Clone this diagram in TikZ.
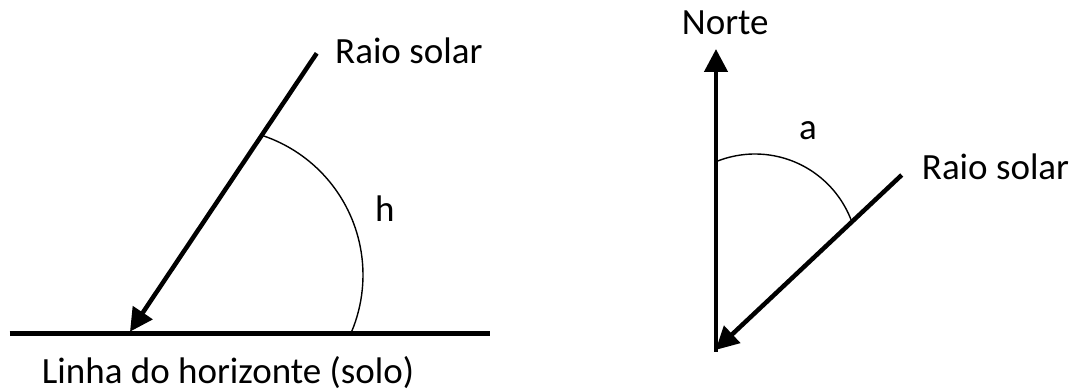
\documentclass[tikz,border=0pt]{standalone}
\usepackage{fontspec}
\setmainfont{Carlito}
\usetikzlibrary{arrows.meta}
\begin{document}
\begin{tikzpicture}[x=1pt,y=1pt,
  thickline/.style={line width=4.5pt},
  arrowline/.style={line width=4.5pt,-{Triangle[length=23pt,width=23pt]}},
  arcline/.style={line width=1.4pt},
  lbl/.style={inner sep=0pt,anchor=base west,font=\fontsize{37}{44}\selectfont}]
\useasboundingbox (0,0) rectangle (1074,391);
% left diagram
\coordinate (hl) at (9.5,57.5);
\coordinate (hr) at (490,57.5);
\coordinate (r1top) at (316.7,337.7);
\coordinate (r1tip) at (130,59.3);
\coordinate (c1) at (216,116);
\draw[thickline] (hl) -- (hr);
\draw[arrowline] (r1top) -- (r1tip);
\draw[arcline] (c1) ++(71.2:147pt) arc[start angle=71.2, end angle=-22.8, radius=147pt];
\node[lbl] (raio1) at (335,327.7) {Raio solar};
\node[lbl] (linha) at (41.7,7.7) {Linha do horizonte (solo)};
\node[lbl] (h) at (375,169.3) {h};
% right diagram
\coordinate (vb) at (716,39);
\coordinate (vt) at (716,342);
\coordinate (r2top) at (901.7,216);
\coordinate (r2tip) at (715.5,41);
\coordinate (c2) at (755,134);
\draw[arrowline] (vb) -- (vt);
\draw[arrowline] (r2top) -- (r2tip);
\draw[arcline] (c2) ++(112.4:103pt) arc[start angle=112.4, end angle=21, radius=103pt];
\node[lbl] (norte) at (681.7,356) {Norte};
\node[lbl] (a) at (799,251) {a};
\node[lbl] (raio2) at (921.7,211) {Raio solar};
\end{tikzpicture}
\end{document}
